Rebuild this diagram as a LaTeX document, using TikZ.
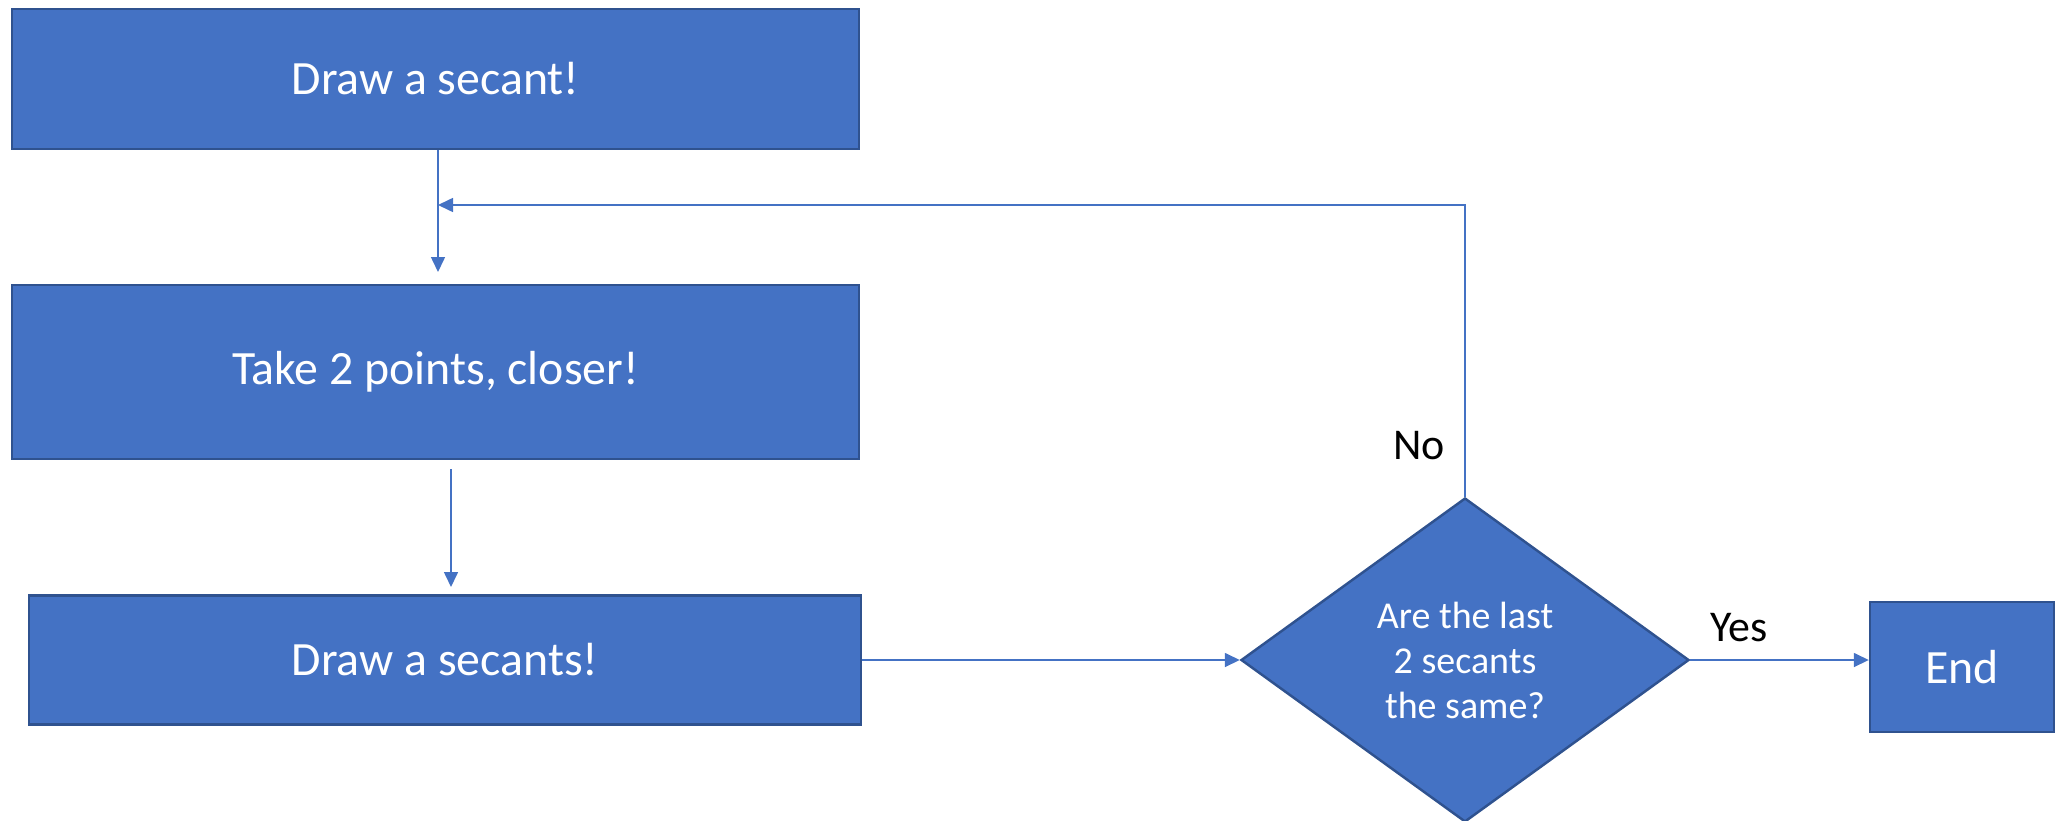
\documentclass[tikz,border=0pt]{standalone}
\usepackage{fontspec}
\setmainfont{Carlito}
\usetikzlibrary{shapes.geometric,arrows.meta}
\definecolor{boxblue}{HTML}{4472C4}
\definecolor{edgeblue}{HTML}{2F528F}
\tikzset{
  blockbox/.style={rectangle, draw=edgeblue, line width=0.7pt, fill=boxblue, text=white, font=\fontsize{13.6}{16}\selectfont, inner sep=0pt},
  decision/.style={diamond, draw=edgeblue, line width=0.7pt, fill=boxblue, text=white, align=center, font=\fontsize{10.8}{12.8}\selectfont, minimum width=4.48cm, minimum height=3.24cm, inner sep=0pt},
  flowline/.style={draw=boxblue, line width=0.45pt, -{Triangle[length=0.15cm,width=0.14cm]}},
  answer/.style={font=\fontsize{12.5}{15}\selectfont, text=black}
}
\begin{document}
\begin{tikzpicture}
    \useasboundingbox (0,0) rectangle (20.62,-8.2);
    % first secant
    \node[blockbox, minimum width=8.47cm, minimum height=1.4cm] (secant) at (4.355, -0.79) {Draw a secant!};
    % closer points
    \node[blockbox, minimum width=8.47cm, minimum height=1.74cm] (closer) at (4.355, -3.72) {Take 2 points, closer!};
    % next secant
    \node[blockbox, minimum width=8.32cm, minimum height=1.29cm] (secants) at (4.45, -6.6) {Draw a secants!};
    % check
    \node[decision] (same) at (14.65, -6.6) {Are the last\\2 secants\\the same?};
    % end
    \node[blockbox, minimum width=1.84cm, minimum height=1.3cm] (fin) at (19.62, -6.67) {End};
    % connectors
    \coordinate (join) at (4.38, -2.05);
    \draw[flowline] (secant.south -| join) -- (4.38, -2.72);
    \draw[flowline] (same.north) |- (join);
    \draw[flowline] (4.51, -4.69) -- (4.51, -5.87);
    \draw[flowline] (secants.east) -- (same.west);
    \draw[flowline] (same.east) -- (same.east -| fin.west);
    % answers
    \node[answer] (no) at (14.19, -4.46) {No};
    \node[answer] (yes) at (17.39, -6.28) {Yes};
  \end{tikzpicture}
\end{document}
